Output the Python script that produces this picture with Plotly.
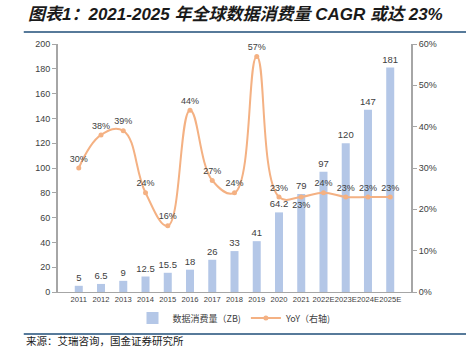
import plotly.graph_objects as go

# Data
years = ["2011", "2012", "2013", "2014", "2015", "2016", "2017", "2018",
         "2019", "2020", "2021", "2022E", "2023E", "2024E", "2025E"]
consumption_zb = [5, 6.5, 9, 12.5, 15.5, 18, 26, 33, 41, 64.2, 79, 97, 120, 147, 181]
bar_labels = ["5", "6.5", "9", "12.5", "15.5", "18", "26", "33", "41", "64.2",
              "79", "97", "120", "147", "181"]
yoy_pct = [30, 38, 39, 24, 16, 44, 27, 24, 57, 23, 23, 24, 23, 23, 23]
yoy_label_pos = ["top center"] * 10 + ["bottom center"] + ["top center"] * 4

left_ticks = [0, 20, 40, 60, 80, 100, 120, 140, 160, 180, 200]
right_ticks = [0, 10, 20, 30, 40, 50, 60]

BAR_COLOR = "#B4C7E7"
LINE_COLOR = "#F4B183"
TEXT_COLOR = "#404040"
AXIS_COLOR = "#A6A6A6"
FONT = "Liberation Sans, Arial, sans-serif"
CJK = "Noto Sans CJK SC, Liberation Sans, sans-serif"
TITLE_FONT = "Liberation Sans, Noto Sans CJK SC, sans-serif"

fig = go.Figure()

fig.add_trace(go.Bar(
    x=years, y=consumption_zb, name="数据消费量（ZB)",
    marker=dict(color=BAR_COLOR, line=dict(width=0)),
    text=bar_labels, textposition="outside", cliponaxis=False,
    constraintext="none",
    textfont=dict(size=9.5, color=TEXT_COLOR, family=FONT),
))

fig.add_trace(go.Scatter(
    x=years, y=yoy_pct, name="YoY（右轴)", yaxis="y2",
    mode="lines+markers+text",
    line=dict(color=LINE_COLOR, width=2, shape="spline", smoothing=1.2),
    marker=dict(color=LINE_COLOR, size=5),
    text=[f"{v}%" for v in yoy_pct], textposition=yoy_label_pos,
    textfont=dict(size=9, color=TEXT_COLOR, family=FONT),
    cliponaxis=False,
))

fig.update_layout(
    width=466, height=349,
    margin=dict(l=58, r=55, t=44, b=57, autoexpand=False),
    paper_bgcolor="white", plot_bgcolor="white",
    font=dict(family=FONT, size=9, color=TEXT_COLOR),
    bargap=0.64,
    showlegend=True,
    legend=dict(orientation="h", x=0.5, xanchor="center", y=-0.105, yanchor="middle",
                font=dict(size=9, family=CJK, color=TEXT_COLOR),
                itemwidth=30, tracegroupgap=0, bgcolor="rgba(0,0,0,0)"),
    xaxis=dict(type="category", showline=True, linecolor=AXIS_COLOR, linewidth=1,
               ticks="", showgrid=False, tickfont=dict(size=7.6, family=FONT),
               ticklen=0, tickangle=0, automargin=False),
    yaxis=dict(range=[0, 200], tickvals=left_ticks, showgrid=False, zeroline=False,
               showline=True, linecolor=AXIS_COLOR, linewidth=2,
               ticks="outside", ticklen=4, tickcolor=AXIS_COLOR,
               tickfont=dict(size=9), automargin=False),
    yaxis2=dict(range=[0, 60], tickvals=right_ticks,
                ticktext=[f"{v}%" for v in right_ticks],
                overlaying="y", side="right", showgrid=False, zeroline=False,
                showline=True, linecolor=AXIS_COLOR, linewidth=2,
                ticks="outside", ticklen=4, tickcolor=AXIS_COLOR,
                tickfont=dict(size=9), automargin=False),
)

# Title and source
fig.add_annotation(
    text="图表1：2021-2025 年全球数据消费量 CAGR 或达 23%",
    xref="paper", yref="paper", x=-0.09, y=1.117, xanchor="left", yanchor="middle",
    showarrow=False,
    font=dict(family=TITLE_FONT, size=17, color="#1a1a1a", weight="bold", style="italic"),
)
fig.add_annotation(
    text="来源：艾瑞咨询，国金证券研究所",
    xref="paper", yref="paper", x=-0.095, y=-0.197, xanchor="left", yanchor="middle",
    showarrow=False,
    font=dict(family=CJK, size=10.5, color="#1a1a1a"),
)

# Rule lines under the title and above the source
fig.add_shape(type="line", xref="paper", yref="paper", x0=-0.097, x1=1.2,
              y0=1.048, y1=1.048, line=dict(color="#1F4E79", width=1.5))
fig.add_shape(type="line", xref="paper", yref="paper", x0=-0.097, x1=1.2,
              y0=-0.169, y1=-0.169, line=dict(color="#1F4E79", width=1.5))

fig.write_html("out.html")
